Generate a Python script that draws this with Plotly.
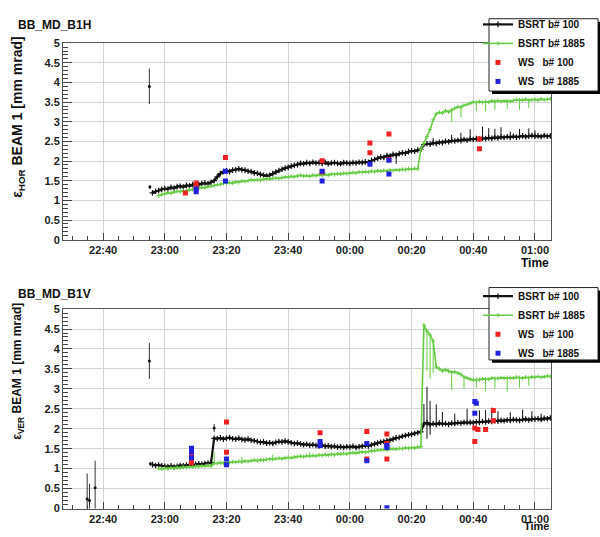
import plotly.graph_objects as go
import pandas as pd

# ---------------- data ----------------
BASE_DAY = "2011-11-04"

# BSRT, horizontal, bunch 100 : one sample per minute from 22:56
H_B100_START = "22:56"
h_bsrt_100 = [
    1.19, 1.23, 1.25, 1.28,
    1.30, 1.29, 1.33, 1.31, 1.35, 1.36, 1.34, 1.38, 1.37, 1.40,
    1.42, 1.40, 1.43, 1.44, 1.42, 1.46, 1.50, 1.60, 1.68, 1.73,
    1.75, 1.73, 1.77, 1.78, 1.80, 1.78, 1.77, 1.74, 1.73, 1.70,
    1.69, 1.66, 1.64, 1.62, 1.64, 1.68, 1.72, 1.76, 1.79, 1.82,
    1.84, 1.87, 1.89, 1.91, 1.94, 1.93, 1.96, 1.94, 1.97, 1.95,
    1.96, 1.94, 1.97, 1.93, 1.95, 1.96, 1.94, 1.93, 1.96, 1.95,
    1.94, 1.96, 1.95, 1.97, 1.96, 1.98, 1.97, 2.01, 2.04, 2.07,
    2.10, 2.09, 2.14, 2.13, 2.17, 2.15, 2.19, 2.21, 2.20, 2.24,
    2.26, 2.25, 2.28, 2.30, 2.42, 2.44, 2.43, 2.46, 2.45, 2.48,
    2.47, 2.50, 2.49, 2.52, 2.51, 2.53, 2.52, 2.55, 2.53, 2.56,
    2.55, 2.57, 2.56, 2.58, 2.57, 2.59, 2.58, 2.60, 2.59, 2.61,
    2.60, 2.62, 2.60, 2.63, 2.61, 2.62, 2.64, 2.62, 2.63, 2.65,
    2.63, 2.64, 2.62, 2.65, 2.63, 2.64,
]
h_b100_up_times = ["00:27", "00:33", "00:36", "00:39", "00:43", "00:45",
                   "00:47", "00:49", "00:52", "00:55", "00:58", "01:00"]
h_b100_up_vals = [0.12, 0.15, 0.20, 0.25, 0.30, 0.25, 0.22, 0.25, 0.15, 0.20, 0.20, 0.15]
h_b100_dn_times = ["00:15"]
h_b100_dn_vals = [0.22]

# BSRT, horizontal, bunch 1885 : one sample per minute from 22:58
H_B1885_START = "22:58"
h_bsrt_1885 = [
    1.12, 1.15,
    1.17, 1.19, 1.18, 1.21, 1.23, 1.22, 1.25, 1.24, 1.27, 1.28,
    1.29, 1.31, 1.33, 1.32, 1.35, 1.36, 1.38, 1.40, 1.41, 1.43,
    1.44, 1.45, 1.44, 1.47, 1.46, 1.49, 1.48, 1.50, 1.52, 1.51,
    1.53, 1.52, 1.54, 1.55, 1.54, 1.56, 1.57, 1.56, 1.58, 1.59,
    1.59, 1.61, 1.60, 1.62, 1.64, 1.62, 1.63, 1.61, 1.64, 1.63,
    1.65, 1.63, 1.66, 1.64, 1.67, 1.66, 1.68, 1.67, 1.69, 1.68,
    1.69, 1.71, 1.70, 1.72, 1.71, 1.73, 1.72, 1.74, 1.73, 1.75,
    1.74, 1.76, 1.75, 1.77, 1.76, 1.78, 1.77, 1.79, 1.78, 1.80,
    1.79, 1.81, 1.80, 2.30, 2.45, 2.62, 2.80, 3.05, 3.20, 3.24,
    3.22, 3.28, 3.25, 3.30, 3.34, 3.38, 3.37, 3.42, 3.44, 3.47,
    3.50, 3.49, 3.51, 3.49, 3.51, 3.50, 3.53, 3.52, 3.54, 3.52,
    3.53, 3.53, 3.52, 3.54, 3.56, 3.55, 3.55, 3.57, 3.55, 3.56,
    3.57, 3.55, 3.58, 3.56, 3.57, 3.58,
]
h_b1885_dn_times = ["00:33", "00:36", "00:41", "00:44", "00:47", "00:51", "00:55", "00:58"]
h_b1885_dn_vals = [0.30, 0.25, 0.22, 0.25, 0.22, 0.20, 0.25, 0.20]

# BSRT, vertical, bunch 100 : one sample per minute from 22:56
V_B100_START = "22:56"
v_bsrt_100 = [
    1.10, 1.08, 1.09, 1.07,
    1.06, 1.05, 1.07, 1.04, 1.06, 1.08, 1.07, 1.09, 1.10, 1.09,
    1.11, 1.12, 1.11, 1.13, 1.14, 1.15, 1.76, 1.75, 1.77, 1.74,
    1.76, 1.78, 1.75, 1.74, 1.76, 1.73, 1.72, 1.74, 1.71, 1.70,
    1.68, 1.66, 1.67, 1.64, 1.65, 1.63, 1.66, 1.68, 1.67, 1.69,
    1.67, 1.65, 1.63, 1.64, 1.62, 1.60, 1.61, 1.59, 1.60, 1.58,
    1.57, 1.59, 1.56, 1.57, 1.55, 1.56, 1.54, 1.55, 1.53, 1.55,
    1.54, 1.56, 1.53, 1.55, 1.56, 1.58, 1.57, 1.60, 1.62, 1.64,
    1.66, 1.68, 1.70, 1.71, 1.74, 1.77, 1.78, 1.81, 1.83, 1.85,
    1.86, 1.88, 1.90, 1.92, 2.12, 2.15, 2.10, 2.13, 2.11, 2.14,
    2.12, 2.13, 2.11, 2.14, 2.13, 2.15, 2.14, 2.16, 2.15, 2.16,
    2.15, 2.17, 2.16, 2.18, 2.17, 2.19, 2.18, 2.20, 2.19, 2.21,
    2.20, 2.22, 2.21, 2.23, 2.22, 2.21, 2.23, 2.24, 2.22, 2.24,
    2.24, 2.25, 2.23, 2.26, 2.25, 2.27,
]
v_b100_up_times = ["00:24", "00:25", "00:26", "00:28", "00:30", "00:34", "00:38", "00:42",
                   "00:44", "00:46", "00:48", "00:52", "00:56", "00:59", "01:02"]
v_b100_up_vals = [0.50, 0.90, 0.60, 0.50, 0.30, 0.25, 0.35, 0.30, 0.30, 0.35, 0.25, 0.20,
                  0.25, 0.20, 0.15]
v_b100_dn_times = ["00:25", "00:26"]
v_b100_dn_vals = [0.40, 0.25]

# BSRT, vertical, bunch 1885 : one sample per minute from 22:58
V_B1885_START = "22:58"
v_bsrt_1885 = [
    1.00, 0.99,
    1.01, 1.00, 1.02, 1.01, 1.03, 1.02, 1.04, 1.03, 1.05, 1.04,
    1.06, 1.05, 1.07, 1.06, 1.08, 1.07, 1.13, 1.13, 1.15, 1.14,
    1.16, 1.15, 1.17, 1.16, 1.18, 1.17, 1.19, 1.18, 1.20, 1.21,
    1.20, 1.22, 1.21, 1.23, 1.24, 1.23, 1.25, 1.26, 1.25, 1.27,
    1.28, 1.27, 1.29, 1.30, 1.31, 1.30, 1.32, 1.31, 1.33, 1.32,
    1.34, 1.33, 1.35, 1.34, 1.36, 1.35, 1.37, 1.36, 1.38, 1.37,
    1.39, 1.40, 1.39, 1.41, 1.42, 1.41, 1.43, 1.44, 1.45, 1.46,
    1.47, 1.48, 1.47, 1.49, 1.50, 1.49, 1.51, 1.50, 1.52, 1.51,
    1.53, 1.52, 1.54, 1.55, 4.60, 4.45, 4.35, 4.20, 3.55, 3.50,
    3.45, 3.48, 3.44, 3.42, 3.42, 3.40, 3.36, 3.30, 3.27, 3.24,
    3.22, 3.23, 3.23, 3.25, 3.24, 3.24, 3.27, 3.26, 3.26, 3.28,
    3.27, 3.28, 3.28, 3.27, 3.29, 3.28, 3.27, 3.29, 3.28, 3.30,
    3.29, 3.31, 3.29, 3.30, 3.32, 3.31,
]
v_b1885_up_times = ["23:16", "23:25", "23:35", "23:47"]
v_b1885_up_vals = [0.28, 0.12, 0.12, 0.10]
v_b1885_dn_times = ["00:25", "00:26", "00:27", "00:33", "00:37", "00:41", "00:44", "00:47",
                    "00:51", "00:55", "00:58"]
v_b1885_dn_vals = [1.00, 1.10, 0.80, 0.45, 0.30, 0.20, 0.30, 0.25, 0.35, 0.25, 0.20]

# isolated BSRT b#100 points with their error bars
h_iso_times = ["22:55:00", "22:55:10"]
h_iso_vals = [3.90, 1.34]
h_iso_errs = [0.45, 0.05]
v_iso_times = ["22:34:50", "22:35:35", "22:37:25", "22:55:00", "22:55:20", "23:16:00"]
v_iso_vals = [0.24, 0.20, 0.52, 3.70, 1.12, 2.02]
v_iso_errs = [0.64, 0.42, 0.68, 0.45, 0.05, 0.10]

# wire scanner measurements
h_ws100_times = ["23:06:40", "23:10:10", "23:10:10", "23:19:40", "23:51:00", "23:51:00",
                 "00:06:30", "00:06:30", "00:12:40", "00:12:40", "00:42:00", "00:42:00"]
h_ws100_vals = [1.19, 1.44, 1.34, 2.09, 2.01, 1.72, 2.46, 2.21, 2.69, 2.04, 2.56, 2.31]
h_ws1885_times = ["23:10:10", "23:10:10", "23:19:40", "23:19:40", "23:51:00", "23:51:00",
                  "00:06:30", "00:12:40", "00:12:40"]
h_ws1885_vals = [1.29, 1.22, 1.74, 1.49, 1.74, 1.49, 1.92, 2.02, 1.67]

v_ws100_times = ["23:08:40", "23:08:40", "23:08:40", "23:08:40", "23:20:00", "23:20:00",
                 "23:50:20", "00:05:30", "00:05:30", "00:12:00", "00:12:00", "00:12:00",
                 "00:40:30", "00:40:30", "00:41:30", "00:44:00", "00:46:30", "00:46:30"]
v_ws100_vals = [1.34, 1.28, 1.22, 1.15, 2.17, 1.41, 1.90, 1.93, 1.24, 1.87, 1.63, 1.24,
                2.02, 1.68, 1.98, 1.98, 2.46, 2.20]
v_ws1885_times = ["23:08:40", "23:08:40", "23:08:40", "23:20:00", "23:20:00", "23:50:20",
                  "23:50:20", "00:05:30", "00:05:30", "00:12:00", "00:12:00", "00:12:00",
                  "00:40:30", "00:40:30", "00:41:00"]
v_ws1885_vals = [1.51, 1.42, 1.27, 1.24, 1.10, 1.68, 1.58, 1.63, 1.20, 1.53, 1.58, 0.02,
                 2.68, 2.39, 2.64]

legend_names = ["BSRT b# 100", "BSRT b# 1885", "WS\u00a0\u00a0\u00a0b# 100", "WS\u00a0\u00a0\u00a0b# 1885"]
panel_titles = ["BB_MD_B1H", "BB_MD_B1V"]
y_titles = ["\u03b5<sub>HOR</sub> BEAM 1 [mm mrad]", "\u03b5<sub>VER</sub> BEAM 1 [mm mrad]"]
X_RANGE = ["22:27:00", "01:05:12"]
X_TICK0 = "22:40"

# ---------------- helpers ----------------
def ts(s):
    p = [int(v) for v in s.split(":")]
    h, m = p[0], p[1]
    sec = p[2] if len(p) > 2 else 0
    day = pd.Timestamp(BASE_DAY) + pd.Timedelta(days=1 if h < 12 else 0)
    return day + pd.Timedelta(hours=h, minutes=m, seconds=sec)


def minute_grid(start, n):
    t0 = ts(start)
    return [t0 + pd.Timedelta(minutes=i) for i in range(n)]


def err_array(start, n, times, vals, base):
    e = [base] * n
    t0 = ts(start)
    for t, v in zip(times, vals):
        k = int(round((ts(t) - t0).total_seconds() / 60))
        if 0 <= k < n:
            e[k] = v
    return e


BLACK = "#111111"
GREEN = "#66cc44"
RED = "#ee2222"
BLUE = "#2222dd"
FONT = "Liberation Sans, Arial, sans-serif"

W, H = 600, 537
def px_x(v):
    return v / W
def px_y(v):
    return 1 - v / H

fig = go.Figure()

panels = [
    dict(xa="x", ya="y", leg="legend",
         b100=(H_B100_START, h_bsrt_100, h_b100_up_times, h_b100_up_vals, h_b100_dn_times, h_b100_dn_vals),
         b1885=(H_B1885_START, h_bsrt_1885, [], [], h_b1885_dn_times, h_b1885_dn_vals),
         iso=(h_iso_times, h_iso_vals, h_iso_errs),
         ws100=(h_ws100_times, h_ws100_vals), ws1885=(h_ws1885_times, h_ws1885_vals)),
    dict(xa="x2", ya="y2", leg="legend2",
         b100=(V_B100_START, v_bsrt_100, v_b100_up_times, v_b100_up_vals, v_b100_dn_times, v_b100_dn_vals),
         b1885=(V_B1885_START, v_bsrt_1885, v_b1885_up_times, v_b1885_up_vals, v_b1885_dn_times, v_b1885_dn_vals),
         iso=(v_iso_times, v_iso_vals, v_iso_errs),
         ws100=(v_ws100_times, v_ws100_vals), ws1885=(v_ws1885_times, v_ws1885_vals)),
]

for p in panels:
    s, vals, ut, uv, dt, dv = p["b100"]
    n = len(vals)
    fig.add_trace(go.Scatter(
        x=minute_grid(s, n), y=vals, mode="lines+markers", name=legend_names[0],
        line=dict(color=BLACK, width=2.2), marker=dict(color=BLACK, size=4, symbol="cross-thin",
                                                     line=dict(color=BLACK, width=1.2)),
        error_y=dict(type="data", symmetric=False, array=err_array(s, n, ut, uv, 0.03),
                     arrayminus=err_array(s, n, dt, dv, 0.03), color=BLACK, thickness=1, width=0),
        xaxis=p["xa"], yaxis=p["ya"], legend=p["leg"]))
    s2, vals2, ut2, uv2, dt2, dv2 = p["b1885"]
    n2 = len(vals2)
    fig.add_trace(go.Scatter(
        x=minute_grid(s2, n2), y=vals2, mode="lines+markers", name=legend_names[1],
        line=dict(color=GREEN, width=1.6), marker=dict(color=GREEN, size=3, symbol="cross-thin",
                                                     line=dict(color=GREEN, width=1)),
        error_y=dict(type="data", symmetric=False, array=err_array(s2, n2, ut2, uv2, 0.0),
                     arrayminus=err_array(s2, n2, dt2, dv2, 0.0), color=GREEN, thickness=1, width=0),
        xaxis=p["xa"], yaxis=p["ya"], legend=p["leg"]))
    it, iv, ie = p["iso"]
    fig.add_trace(go.Scatter(
        x=[ts(t) for t in it], y=iv, mode="markers", showlegend=False,
        marker=dict(color=BLACK, size=3),
        error_y=dict(type="data", array=ie, color="#333333", thickness=1, width=0),
        xaxis=p["xa"], yaxis=p["ya"]))
    wt, wv = p["ws100"]
    fig.add_trace(go.Scatter(
        x=[ts(t) for t in wt], y=wv, mode="markers", name=legend_names[2],
        marker=dict(color=RED, size=5, symbol="square"),
        xaxis=p["xa"], yaxis=p["ya"], legend=p["leg"]))
    wt, wv = p["ws1885"]
    fig.add_trace(go.Scatter(
        x=[ts(t) for t in wt], y=wv, mode="markers", name=legend_names[3],
        marker=dict(color=BLUE, size=5, symbol="square"),
        xaxis=p["xa"], yaxis=p["ya"], legend=p["leg"]))

tickfont = dict(family=FONT, size=11, color="#222222", weight="bold")
xax = dict(
    type="date", range=[ts(X_RANGE[0]), ts(X_RANGE[1])], domain=[px_x(63), px_x(551)],
    tick0=ts(X_TICK0), dtick=20 * 60 * 1000, tickformat="%H:%M", tickfont=tickfont,
    ticks="inside", ticklen=7, tickcolor="#444444",
    minor=dict(dtick=5 * 60 * 1000, ticks="inside", ticklen=4, tickcolor="#444444", showgrid=False),
    showgrid=True, gridcolor="#d4d4d4", gridwidth=1,
    showline=True, mirror=True, linecolor="#555555", linewidth=1, zeroline=False,
)
yax = dict(
    range=[0, 5], dtick=0.5, tickfont=tickfont, ticks="inside", ticklen=9, tickcolor="#444444",
    minor=dict(dtick=0.1, ticks="inside", ticklen=5, tickcolor="#444444", showgrid=False),
    showgrid=True, gridcolor="#d4d4d4", gridwidth=1,
    showline=True, mirror=True, linecolor="#555555", linewidth=1, zeroline=False,
)

legfont = dict(family=FONT, size=10, color="#111111", weight="bold")
fig.update_layout(
    width=W, height=H, margin=dict(l=0, r=0, t=0, b=0),
    paper_bgcolor="white", plot_bgcolor="white",
    xaxis=dict(xax, anchor="y"),
    yaxis=dict(yax, anchor="x", domain=[px_y(239), px_y(38)]),
    xaxis2=dict(xax, anchor="y2"),
    yaxis2=dict(yax, anchor="x2", domain=[px_y(514), px_y(310)]),
    legend=dict(x=px_x(478), y=px_y(4), xanchor="left", yanchor="top", font=legfont,
                bgcolor="rgba(0,0,0,0)", borderwidth=0, itemwidth=30, tracegroupgap=0),
    legend2=dict(x=px_x(478), y=px_y(282), xanchor="left", yanchor="top", font=legfont,
                 bgcolor="rgba(0,0,0,0)", borderwidth=0, itemwidth=30, tracegroupgap=0),
    showlegend=True,
)

# legend frames with ROOT-like shadow
for top, bot in [(13, 87), (288, 362)]:
    fig.add_shape(type="rect", xref="paper", yref="paper", x0=px_x(492), x1=px_x(603),
                  y0=px_y(bot + 3), y1=px_y(top + 3), fillcolor="black", line=dict(width=0))
    fig.add_shape(type="rect", xref="paper", yref="paper", x0=px_x(489), x1=px_x(598),
                  y0=px_y(bot), y1=px_y(top), fillcolor="white", line=dict(color="#222222", width=1))

# texts
for title, ty in zip(panel_titles, [19, 295]):
    fig.add_annotation(text=title, xref="paper", yref="paper", x=px_x(16), y=px_y(ty),
                       xanchor="left", yanchor="middle", showarrow=False,
                       font=dict(family=FONT, size=12, color="#111111", weight="bold"))
for ytxt, top, size in zip(y_titles, [30, 302], [14, 12]):
    fig.add_annotation(text=ytxt, xref="paper", yref="paper", x=px_x(18), y=px_y(top),
                       xanchor="center", yanchor="top", textangle=-90, showarrow=False,
                       font=dict(family=FONT, size=size, color="#111111", weight="bold"))
for ty, tsz in [(263, 12), (532, 11)]:
    fig.add_annotation(text="Time", xref="paper", yref="paper", x=px_x(551), y=px_y(ty),
                       xanchor="right", yanchor="middle", showarrow=False,
                       font=dict(family=FONT, size=tsz, color="#111111", weight="bold"))

fig.write_html("out.html", config={"displayModeBar": False},
               post_script="document.body.style.margin='0px';")
